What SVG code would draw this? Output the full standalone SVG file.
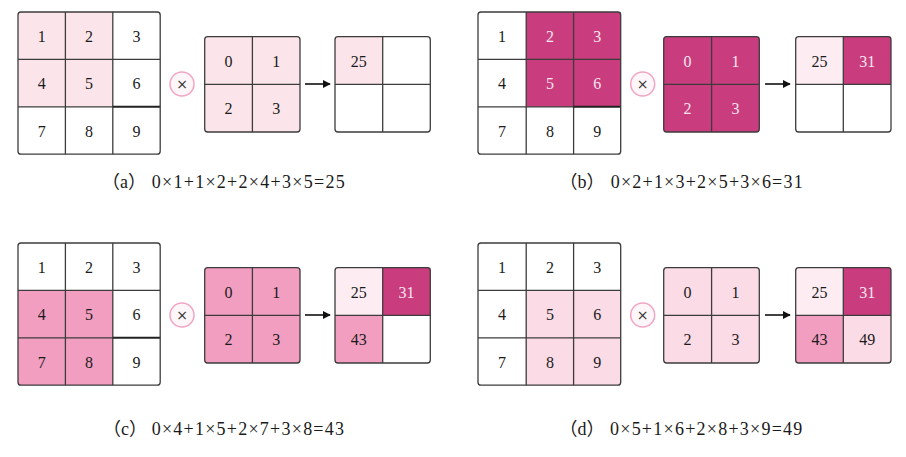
<svg xmlns="http://www.w3.org/2000/svg" width="906" height="457" viewBox="0 0 906 457">
<defs>
<style>
.bg{fill:#ffffff}
.pa{fill:#fbe5ea}
.pb{fill:#c93c7e}
.pc{fill:#f19ec0}
.pd{fill:#fadbe6}
.pe{fill:#fdedf2}
.frame{fill:none;stroke:#3c3c3c;stroke-width:1.3}
.ln{stroke:#3c3c3c;stroke-width:1.3;fill:none}
.lnb{stroke:#222;stroke-width:2;fill:none}
.n{font-family:'Liberation Serif','Times New Roman','DejaVu Serif',serif;font-size:16px;fill:#1a1a1a;text-anchor:middle}
.w{fill:#f8e6ef}
.op{fill:#fff6f9;stroke:#f2a5c4;stroke-width:1.5}
.opt{font-family:'DejaVu Sans','Liberation Sans',sans-serif;font-size:14px;fill:#333;text-anchor:middle}
.cap{font-family:'Liberation Serif','Times New Roman','Noto Sans CJK SC',serif;font-size:18px;fill:#1a1a1a}
.arr{stroke:#111;stroke-width:1.6;fill:none}
</style>
<marker id="ah" viewBox="0 0 10 10" refX="9" refY="5" markerWidth="5" markerHeight="5" orient="auto" markerUnits="strokeWidth">
<path d="M0,0 L10,5 L0,10 z" fill="#111"/>
</marker>
</defs>
<rect x="0" y="0" width="906" height="457" fill="#ffffff"/>

<!-- Panel A -->
<g id="grid-a">
<rect class="bg" x="18" y="12" width="142.2" height="142.2" rx="3"/>
<rect class="pa" x="18" y="12" width="94.8" height="94.8"/>
<line class="ln" x1="65.4" y1="12" x2="65.4" y2="154.2"/>
<line class="ln" x1="112.8" y1="12" x2="112.8" y2="154.2"/>
<line class="ln" x1="18" y1="59.4" x2="160.2" y2="59.4"/>
<line class="ln" x1="18" y1="106.8" x2="112.8" y2="106.8"/>
<line class="lnb" x1="112.8" y1="106.8" x2="160.2" y2="106.8"/>
<rect class="frame" x="18" y="12" width="142.2" height="142.2" rx="3"/>
<text class="n" x="41.7" y="41.7">1</text><text class="n" x="89.1" y="41.7">2</text><text class="n" x="136.5" y="41.7">3</text>
<text class="n" x="41.7" y="89.1">4</text><text class="n" x="89.1" y="89.1">5</text><text class="n" x="136.5" y="89.1">6</text>
<text class="n" x="41.7" y="136.5">7</text><text class="n" x="89.1" y="136.5">8</text><text class="n" x="136.5" y="136.5">9</text>
</g>
<g id="op-a">
<circle class="op" cx="182" cy="84" r="12"/>
<text class="opt" x="182" y="89">×</text>
</g>
<g id="kernel-a">
<rect class="pa" x="204.7" y="36.7" width="95.3" height="95.3" rx="3"/>
<line class="ln" x1="252.4" y1="36.7" x2="252.4" y2="132"/>
<line class="ln" x1="204.7" y1="84.3" x2="300" y2="84.3"/>
<rect class="frame" x="204.7" y="36.7" width="95.3" height="95.3" rx="3"/>
<text class="n" x="228.5" y="66.5">0</text><text class="n" x="276.2" y="66.5">1</text>
<text class="n" x="228.5" y="114.2">2</text><text class="n" x="276.2" y="114.2">3</text>
</g>
<g id="out-a">
<rect class="bg" x="335" y="36.7" width="95.3" height="95.3" rx="3"/>
<rect class="pa" x="335" y="36.7" width="47.7" height="47.6"/>
<line class="ln" x1="382.7" y1="36.7" x2="382.7" y2="132"/>
<line class="ln" x1="335" y1="84.3" x2="430.3" y2="84.3"/>
<rect class="frame" x="335" y="36.7" width="95.3" height="95.3" rx="3"/>
<text class="n" x="358.8" y="66.5">25</text>
</g>
<g id="cap-a">
<text class="cap" x="102" y="188">（a）</text>
<text class="cap" x="151.7" y="188" textLength="193" lengthAdjust="spacing">0×1+1×2+2×4+3×5=25</text>
</g>

<!-- Panel B -->
<g id="grid-b">
<rect class="bg" x="478" y="12" width="142.7" height="142.2" rx="3"/>
<rect class="pb" x="526.2" y="12" width="94.5" height="94.8"/>
<line class="ln" x1="526.2" y1="12" x2="526.2" y2="154.2"/>
<line class="ln" x1="573.6" y1="12" x2="573.6" y2="154.2"/>
<line class="ln" x1="478" y1="59.4" x2="620.7" y2="59.4"/>
<line class="ln" x1="478" y1="106.8" x2="573.6" y2="106.8"/>
<line class="lnb" x1="573.6" y1="106.8" x2="620.7" y2="106.8"/>
<rect class="frame" x="478" y="12" width="142.7" height="142.2" rx="3"/>
<text class="n" x="502" y="41.7">1</text><text class="n w" x="549.9" y="41.7">2</text><text class="n w" x="597.2" y="41.7">3</text>
<text class="n" x="502" y="89.1">4</text><text class="n w" x="549.9" y="89.1">5</text><text class="n w" x="597.2" y="89.1">6</text>
<text class="n" x="502" y="136.5">7</text><text class="n" x="549.9" y="136.5">8</text><text class="n" x="597.2" y="136.5">9</text>
</g>
<g id="op-b">
<circle class="op" cx="642.7" cy="84" r="12"/>
<text class="opt" x="642.7" y="89">×</text>
</g>
<g id="kernel-b">
<rect class="pb" x="663.7" y="36.7" width="95.6" height="95.3" rx="3"/>
<line class="ln" x1="711.6" y1="36.7" x2="711.6" y2="132"/>
<line class="ln" x1="663.7" y1="84.3" x2="759.3" y2="84.3"/>
<rect class="frame" x="663.7" y="36.7" width="95.6" height="95.3" rx="3"/>
<text class="n w" x="687.6" y="66.5">0</text><text class="n w" x="735.5" y="66.5">1</text>
<text class="n w" x="687.6" y="114.2">2</text><text class="n w" x="735.5" y="114.2">3</text>
</g>
<g id="out-b">
<rect class="bg" x="795.7" y="36.7" width="95.3" height="95.3" rx="3"/>
<rect class="pe" x="795.7" y="36.7" width="47.6" height="47.6"/>
<rect class="pb" x="843.3" y="36.7" width="47.7" height="47.6"/>
<line class="ln" x1="843.3" y1="36.7" x2="843.3" y2="132"/>
<line class="ln" x1="795.7" y1="84.3" x2="891" y2="84.3"/>
<rect class="frame" x="795.7" y="36.7" width="95.3" height="95.3" rx="3"/>
<text class="n" x="819.5" y="66.5">25</text><text class="n w" x="867.2" y="66.5">31</text>
</g>
<g id="cap-b">
<text class="cap" x="559.5" y="188">（b）</text>
<text class="cap" x="610.7" y="188" textLength="192" lengthAdjust="spacing">0×2+1×3+2×5+3×6=31</text>
</g>

<!-- Panel C -->
<g id="grid-c">
<rect class="bg" x="18" y="243" width="142.2" height="142.2" rx="3"/>
<rect class="pc" x="18" y="290.4" width="94.8" height="94.8"/>
<line class="ln" x1="65.4" y1="243" x2="65.4" y2="385.2"/>
<line class="ln" x1="112.8" y1="243" x2="112.8" y2="385.2"/>
<line class="ln" x1="18" y1="290.4" x2="160.2" y2="290.4"/>
<line class="ln" x1="18" y1="337.8" x2="112.8" y2="337.8"/>
<line class="lnb" x1="112.8" y1="337.8" x2="160.2" y2="337.8"/>
<rect class="frame" x="18" y="243" width="142.2" height="142.2" rx="3"/>
<text class="n" x="41.7" y="272.7">1</text><text class="n" x="89.1" y="272.7">2</text><text class="n" x="136.5" y="272.7">3</text>
<text class="n" x="41.7" y="320.1">4</text><text class="n" x="89.1" y="320.1">5</text><text class="n" x="136.5" y="320.1">6</text>
<text class="n" x="41.7" y="367.5">7</text><text class="n" x="89.1" y="367.5">8</text><text class="n" x="136.5" y="367.5">9</text>
</g>
<g id="op-c">
<circle class="op" cx="182" cy="315" r="12"/>
<text class="opt" x="182" y="320">×</text>
</g>
<g id="kernel-c">
<rect class="pc" x="204.7" y="267.7" width="95.3" height="95.3" rx="3"/>
<line class="ln" x1="252.4" y1="267.7" x2="252.4" y2="363"/>
<line class="ln" x1="204.7" y1="315.3" x2="300" y2="315.3"/>
<rect class="frame" x="204.7" y="267.7" width="95.3" height="95.3" rx="3"/>
<text class="n" x="228.5" y="297.5">0</text><text class="n" x="276.2" y="297.5">1</text>
<text class="n" x="228.5" y="345.2">2</text><text class="n" x="276.2" y="345.2">3</text>
</g>
<g id="out-c">
<rect class="bg" x="335" y="267.7" width="95.3" height="95.3" rx="3"/>
<rect class="pe" x="335" y="267.7" width="47.7" height="47.6"/>
<rect class="pb" x="382.7" y="267.7" width="47.6" height="47.6"/>
<rect class="pc" x="335" y="315.3" width="47.7" height="47.7"/>
<line class="ln" x1="382.7" y1="267.7" x2="382.7" y2="363"/>
<line class="ln" x1="335" y1="315.3" x2="430.3" y2="315.3"/>
<rect class="frame" x="335" y="267.7" width="95.3" height="95.3" rx="3"/>
<text class="n" x="358.8" y="297.5">25</text><text class="n w" x="406.5" y="297.5">31</text>
<text class="n" x="358.8" y="345.2">43</text>
</g>
<g id="cap-c">
<text class="cap" x="103" y="435">（c）</text>
<text class="cap" x="151.7" y="435" textLength="192.3" lengthAdjust="spacing">0×4+1×5+2×7+3×8=43</text>
</g>

<!-- Panel D -->
<g id="grid-d">
<rect class="bg" x="478" y="243" width="142.7" height="142.2" rx="3"/>
<rect class="pd" x="526.2" y="290.4" width="94.5" height="94.8"/>
<line class="ln" x1="526.2" y1="243" x2="526.2" y2="385.2"/>
<line class="ln" x1="573.6" y1="243" x2="573.6" y2="385.2"/>
<line class="ln" x1="478" y1="290.4" x2="620.7" y2="290.4"/>
<line class="ln" x1="478" y1="337.8" x2="620.7" y2="337.8"/>
<rect class="frame" x="478" y="243" width="142.7" height="142.2" rx="3"/>
<text class="n" x="502" y="272.7">1</text><text class="n" x="549.9" y="272.7">2</text><text class="n" x="597.2" y="272.7">3</text>
<text class="n" x="502" y="320.1">4</text><text class="n" x="549.9" y="320.1">5</text><text class="n" x="597.2" y="320.1">6</text>
<text class="n" x="502" y="367.5">7</text><text class="n" x="549.9" y="367.5">8</text><text class="n" x="597.2" y="367.5">9</text>
</g>
<g id="op-d">
<circle class="op" cx="642.7" cy="315" r="12"/>
<text class="opt" x="642.7" y="320">×</text>
</g>
<g id="kernel-d">
<rect class="pd" x="663.7" y="267.7" width="95.6" height="95.3" rx="3"/>
<line class="ln" x1="711.6" y1="267.7" x2="711.6" y2="363"/>
<line class="ln" x1="663.7" y1="315.3" x2="759.3" y2="315.3"/>
<rect class="frame" x="663.7" y="267.7" width="95.6" height="95.3" rx="3"/>
<text class="n" x="687.6" y="297.5">0</text><text class="n" x="735.5" y="297.5">1</text>
<text class="n" x="687.6" y="345.2">2</text><text class="n" x="735.5" y="345.2">3</text>
</g>
<g id="out-d">
<rect class="bg" x="795.7" y="267.7" width="95.3" height="95.3" rx="3"/>
<rect class="pe" x="795.7" y="267.7" width="47.6" height="47.6"/>
<rect class="pb" x="843.3" y="267.7" width="47.7" height="47.6"/>
<rect class="pc" x="795.7" y="315.3" width="47.6" height="47.7"/>
<rect class="pd" x="843.3" y="315.3" width="47.7" height="47.7"/>
<line class="ln" x1="843.3" y1="267.7" x2="843.3" y2="363"/>
<line class="ln" x1="795.7" y1="315.3" x2="891" y2="315.3"/>
<rect class="frame" x="795.7" y="267.7" width="95.3" height="95.3" rx="3"/>
<text class="n" x="819.5" y="297.5">25</text><text class="n w" x="867.2" y="297.5">31</text>
<text class="n" x="819.5" y="345.2">43</text><text class="n" x="867.2" y="345.2">49</text>
</g>
<g id="cap-d">
<text class="cap" x="559.5" y="435">（d）</text>
<text class="cap" x="610" y="435" textLength="192.3" lengthAdjust="spacing">0×5+1×6+2×8+3×9=49</text>
</g>

<g id="connectors">
<line class="arr" x1="305" y1="84" x2="330" y2="84" marker-end="url(#ah)"/>
<line class="arr" x1="765" y1="84" x2="790" y2="84" marker-end="url(#ah)"/>
<line class="arr" x1="305" y1="315" x2="330" y2="315" marker-end="url(#ah)"/>
<line class="arr" x1="765" y1="315" x2="790" y2="315" marker-end="url(#ah)"/>
</g>
</svg>
